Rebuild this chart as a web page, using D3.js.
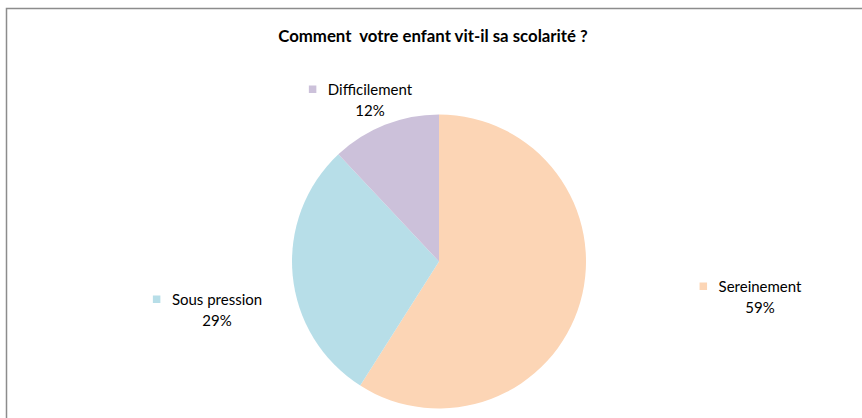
<!DOCTYPE html>
<html><head><meta charset="utf-8">
<script src="https://cdn.jsdelivr.net/npm/d3@7"></script>
<style>html,body{margin:0;padding:0;background:#fff;}svg{display:block;}</style>
</head><body>
<script>
const categories = ["Sereinement", "Sous pression", "Difficilement"];
const values = [59, 29, 12];
const colors = ["#FCD5B5", "#B7DEE8", "#CCC1DA"];
const title = "Comment\u00a0 votre enfant vit-il sa scolarité ?";

const W = 862, H = 418;
const svg = d3.select("body").append("svg").attr("width", W).attr("height", H);
svg.append("rect").attr("x", 6.5).attr("y", 8.5).attr("width", 900).attr("height", 500)
  .attr("fill", "#fff").attr("stroke", "#8c8c8c").attr("stroke-width", 1.5);

const font = "Lato, 'Open Sans', sans-serif";
svg.append("text").attr("x", 433).attr("y", 42).attr("text-anchor", "middle")
  .attr("font-family", font).attr("font-weight", "bold").attr("font-size", 16.8)
  .attr("fill", "#000").text(title);

const cx = 439, cy = 261.5, r = 147;
const pie = d3.pie().sort(null).value(d => d.v);
const arcs = pie(categories.map((c, i) => ({c, v: values[i], col: colors[i]})));
const arc = d3.arc().innerRadius(0).outerRadius(r);
const g = svg.append("g").attr("transform", `translate(${cx},${cy})`);
g.selectAll("path").data(arcs).join("path").attr("d", arc).attr("fill", d => d.data.col);

// label layout (center x of text, baseline of first line)
const labelPos = [[760, 292], [217, 305], [370, 95]];
arcs.forEach((a, i) => {
  const [lx, ly] = labelPos[i];
  const t = svg.append("text").attr("x", lx).attr("y", ly).attr("text-anchor", "middle")
    .attr("font-family", font).attr("font-size", 15).attr("fill", "#000").text(a.data.c);
  const w = t.node().getComputedTextLength();
  svg.append("rect").attr("x", lx - w / 2 - 19).attr("y", ly - 9.5).attr("width", 7.5).attr("height", 7.5)
    .attr("fill", a.data.col);
  svg.append("text").attr("x", lx).attr("y", ly + 21).attr("text-anchor", "middle")
    .attr("font-family", font).attr("font-size", 15).attr("fill", "#000")
    .text(a.data.v + "%");
});
</script>
</body></html>
